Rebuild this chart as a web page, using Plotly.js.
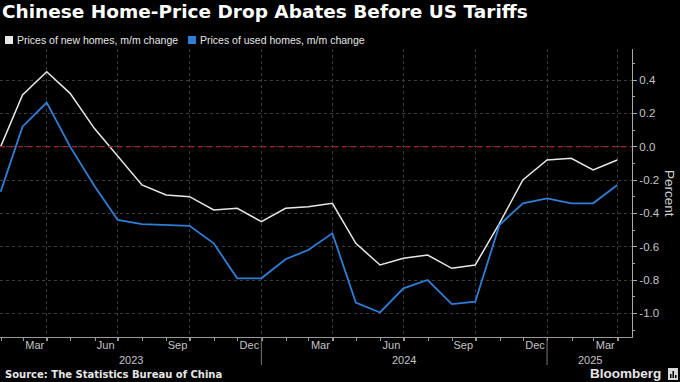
<!DOCTYPE html>
<html><head><meta charset="utf-8">
<script src="https://cdn.plot.ly/plotly-3.0.1.min.js"></script>
<style>html,body{margin:0;padding:0;background:#000;}#chart{width:680px;height:382px;}</style>
</head><body><div id="chart"></div>
<script>
// ---- data ----
const months = ['2023-01-31','2023-02-28','2023-03-31','2023-04-30','2023-05-31','2023-06-30','2023-07-31','2023-08-31','2023-09-30','2023-10-31','2023-11-30','2023-12-31',
  '2024-01-31','2024-02-29','2024-03-31','2024-04-30','2024-05-31','2024-06-30','2024-07-31','2024-08-31','2024-09-30','2024-10-31','2024-11-30','2024-12-31',
  '2025-01-31','2025-02-28','2025-03-31'];
const newHomes = [0.0, 0.31, 0.45, 0.32, 0.11, -0.06, -0.23, -0.29, -0.30, -0.38, -0.37, -0.45,
  -0.37, -0.36, -0.34, -0.58, -0.71, -0.67, -0.65, -0.73, -0.71, -0.46, -0.20, -0.08,
  -0.07, -0.14, -0.08];
const usedHomes = [-0.27, 0.12, 0.265, 0.0, -0.235, -0.44, -0.465, -0.47, -0.475, -0.58, -0.79, -0.79,
  -0.675, -0.62, -0.52, -0.935, -0.995, -0.85, -0.80, -0.945, -0.93, -0.47, -0.34, -0.31,
  -0.34, -0.34, -0.23];
const seriesNames = ['Prices of new homes, m/m change', 'Prices of used homes, m/m change'];
const quarterTicks = ['2023-03-31','2023-06-30','2023-09-30','2023-12-31','2024-03-31','2024-06-30','2024-09-30','2024-12-31','2025-03-31'];
const quarterLabels = ['Mar','Jun','Sep','Dec','Mar','Jun','Sep','Dec','Mar'];
const yearLabels = ['2023','2024','2025'];
const yearBounds = ['2023-12-31','2024-12-31'];
const yTicks = [-1.0,-0.8,-0.6,-0.4,-0.2,0.0,0.2,0.4];
const yTickLabels = ['-1.0','-0.8','-0.6','-0.4','-0.2','0.0','0.2','0.4'];

// ---- layout geometry ----
const W = 680, H = 382, L = 0, R = 48, T = 49, B = 45;
const PW = W - L - R, PH = H - T - B;
const px = x => (x - L) / PW;
const py = y => (H - B - y) / PH;
const xRange = ['2023-01-30 04:00', '2025-04-18 20:00'];
const COLORS = ['#e8e8e8', '#2f7ed8'];

const t0 = new Date(xRange[0].replace(' ', 'T') + 'Z').getTime();
const t1 = new Date(xRange[1].replace(' ', 'T') + 'Z').getTime();
const tb = yearBounds.map(d => new Date(d + 'T00:00Z').getTime());
const edges = [t0, ...tb, t1];
const yearMid = yearLabels.map((_, i) => new Date((edges[i] + edges[i+1]) / 2).toISOString().slice(0, 16).replace('T', ' '));

const traces = [
  {x: months, y: newHomes, type: 'scatter', mode: 'lines', name: seriesNames[0], line: {color: COLORS[0], width: 1.5}},
  {x: months, y: usedHomes, type: 'scatter', mode: 'lines', name: seriesNames[1], line: {color: COLORS[1], width: 1.8}}
];

const tickFont = {family: 'Liberation Sans, Arial, sans-serif', size: 11, color: '#c4c4c4'};

const annotations = [
  {text: seriesNames[0], xref: 'paper', yref: 'paper', x: px(15), y: py(40), xanchor: 'left', yanchor: 'middle', showarrow: false,
   font: {family: 'Liberation Sans, Arial, sans-serif', size: 10.5, color: '#e6e6e6'}},
  {text: seriesNames[1], xref: 'paper', yref: 'paper', x: px(198), y: py(40), xanchor: 'left', yanchor: 'middle', showarrow: false,
   font: {family: 'Liberation Sans, Arial, sans-serif', size: 10.5, color: '#e6e6e6'}},
  {text: 'Percent', xref: 'paper', yref: 'paper', x: px(670), y: py(193), xanchor: 'center', yanchor: 'middle', textangle: 90, showarrow: false,
   font: {family: 'Liberation Sans, Arial, sans-serif', size: 13.5, color: '#d0d0d0'}},
  {text: '<b>Source: The Statistics Bureau of China</b>', xref: 'paper', yref: 'paper', x: px(3), y: py(374), xanchor: 'left', yanchor: 'middle', showarrow: false,
   font: {family: 'DejaVu Sans, sans-serif', size: 10, color: '#e6e6e6'}},
  {text: '<b>Bloomberg</b>', xref: 'paper', yref: 'paper', x: px(663), y: py(373), xanchor: 'right', yanchor: 'middle', showarrow: false,
   font: {family: 'Liberation Sans, Arial, sans-serif', size: 13.5, color: '#e6e6e6'}}
];
yearLabels.forEach((lab, i) => annotations.push({
  text: lab, xref: 'x', yref: 'paper', x: yearMid[i], y: py(360), xanchor: 'center', yanchor: 'middle', showarrow: false, font: tickFont
}));

const shapes = [
  {type: 'line', xref: 'paper', yref: 'y', x0: 0, x1: 1, y0: 0, y1: 0, line: {color: '#9a2638', width: 1.2, dash: '5px,4px'}},
  {type: 'rect', xref: 'paper', yref: 'paper', x0: px(5), x1: px(13), y0: py(44), y1: py(36), fillcolor: COLORS[0], line: {width: 0}},
  {type: 'rect', xref: 'paper', yref: 'paper', x0: px(188), x1: px(196), y0: py(44), y1: py(36), fillcolor: COLORS[1], line: {width: 0}},
  {type: 'rect', xref: 'paper', yref: 'paper', x0: px(668), x1: px(678), y0: py(380), y1: py(368), fillcolor: '#d8d8d8', line: {width: 0}},
  {type: 'rect', xref: 'paper', yref: 'paper', x0: px(670), x1: px(671.5), y0: py(378), y1: py(374), fillcolor: '#000', line: {width: 0}},
  {type: 'rect', xref: 'paper', yref: 'paper', x0: px(672.5), x1: px(674), y0: py(378), y1: py(371), fillcolor: '#000', line: {width: 0}},
  {type: 'rect', xref: 'paper', yref: 'paper', x0: px(675), x1: px(676.5), y0: py(378), y1: py(375), fillcolor: '#000', line: {width: 0}}
];
yearBounds.forEach(d => shapes.push({type: 'line', xref: 'x', yref: 'paper', x0: d, x1: d, y0: 0, y1: py(365), line: {color: '#777', width: 1}}));

const layout = {
  width: W, height: H,
  margin: {l: L, r: R, t: T, b: B, pad: 0},
  paper_bgcolor: '#000', plot_bgcolor: '#000',
  showlegend: false, hovermode: false,
  title: {text: '<b>Chinese Home-Price Drop Abates Before US Tariffs</b>', xref: 'container', yref: 'container',
    x: 2 / W, xanchor: 'left', y: 1 - 12 / H, yanchor: 'middle',
    font: {family: 'DejaVu Sans, sans-serif', size: 18.5, color: '#ffffff'}},
  xaxis: {
    type: 'date', range: xRange, fixedrange: true,
    tickmode: 'array', tickvals: quarterTicks, ticktext: quarterLabels, ticklabelshift: -12, ticklabelstandoff: -5,
    ticks: 'outside', ticklen: 3, tickcolor: '#999', tickfont: tickFont,
    showgrid: true, gridcolor: '#3c3c3c', griddash: 'dot', gridwidth: 1,
    showline: true, linecolor: '#9a9a9a', linewidth: 1, zeroline: false,
    minor: {dtick: 'M1', tick0: '2023-01-01', ticks: 'outside', ticklen: 3, tickcolor: '#999', showgrid: false}
  },
  yaxis: {
    side: 'right', range: [-1.142, 0.586], fixedrange: true,
    tickmode: 'array', tickvals: yTicks, ticktext: yTickLabels,
    ticks: 'outside', ticklen: 4, tickcolor: '#aaa', tickfont: {family: 'Liberation Sans, Arial, sans-serif', size: 11.5, color: '#c4c4c4'},
    showgrid: true, gridcolor: '#3c3c3c', griddash: 'dot', gridwidth: 1,
    showline: true, linecolor: '#aaaaaa', linewidth: 1, zeroline: false,
    minor: {dtick: 0.1, tick0: 0, ticks: 'outside', ticklen: 2, tickcolor: '#aaa', showgrid: false}
  },
  annotations: annotations,
  shapes: shapes
};

Plotly.newPlot('chart', traces, layout, {staticPlot: true, displayModeBar: false});
</script>
</body></html>
